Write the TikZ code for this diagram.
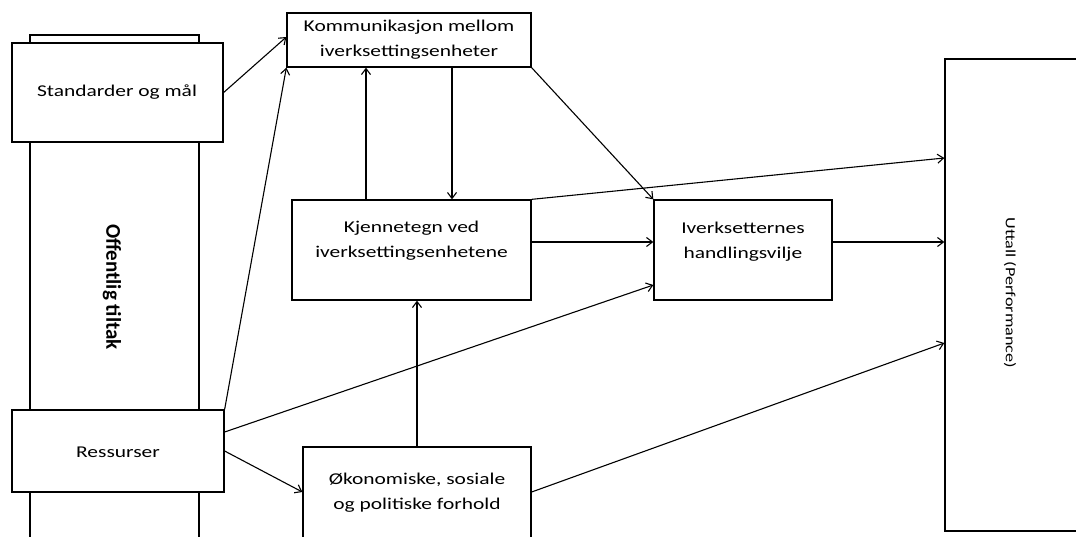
\documentclass[tikz,border=0pt]{standalone}
\usepackage{fontspec}
\setmainfont{Carlito}[FakeStretch=1.3]
\newfontfamily\plainfont{Carlito}
\usetikzlibrary{arrows.meta}
\begin{document}
\begin{tikzpicture}[x=1pt,y=-1pt,
  box/.style={draw, line width=1.3pt, fill=white, inner sep=0pt},
  lbl/.style={align=center, inner sep=0pt, font=\fontsize{16.5}{25}\selectfont},
  arr/.style={line width=1.1pt, -{Straight Barb[length=6pt,width=9pt]}}]
\useasboundingbox (0,0) rectangle (1076,536);
\begin{scope}
\clip (0,0) rectangle (1076,536);
% boxes
\node[box, minimum width=169, minimum height=540] (col) at (114.5,305) {};
\node[box, minimum width=211, minimum height=99] (std) at (117.5,92.5) {};
\node[box, minimum width=212, minimum height=82] (res) at (118,451) {};
\node[box, minimum width=244, minimum height=54] (kom) at (409,40) {};
\node[box, minimum width=239, minimum height=100] (kje) at (411.5,250) {};
\node[box, minimum width=178, minimum height=100] (ive) at (743,250) {};
\node[box, minimum width=228, minimum height=133] (oko) at (417,513.5) {};
\node[box, minimum width=155, minimum height=472] (utt) at (1022.5,295) {};
% labels
\node[inner sep=0pt, rotate=-90, font=\plainfont\bfseries\fontsize{21}{24}\selectfont] (colt) at (112,287) {Offentlig tiltak};
\node[lbl] (stdt) at (117,92) {Standarder og mål};
\node[lbl] (rest) at (118,452) {Ressurser};
\node[lbl] (komt) at (409,40) {Kommunikasjon mellom\\iverksettingsenheter};
\node[lbl] (kjet) at (411.5,241) {Kjennetegn ved\\iverksettingsenhetene};
\node[lbl] (ivet) at (743,242) {Iverksetternes\\handlingsvilje};
\node[lbl] (okot) at (417,493) {Økonomiske, sosiale\\og politiske forhold};
\node[inner sep=0pt, rotate=-90, font=\fontsize{14}{16}\selectfont] (uttt) at (1010,293) {Uttall (Performance)};
% connectors
\draw[arr] (std.east) -- ([yshift=3]kom.west);
\draw[arr] (res.north east) -- (kom.south west);
\draw[arr] ([xshift=-45.5]kje.north) -- ([xshift=-45.5]kje.north |- kom.south);
\draw[arr] ([xshift=43]kom.south) -- ([xshift=43]kom.south |- kje.north);
\draw[arr] (kom.south east) -- (ive.north west);
\draw[arr] (kje.north east) -- ([yshift=137]utt.west);
\draw[arr] ([yshift=8]kje.east) -- ([yshift=8]kje.east -| ive.west);
\draw[arr] ([yshift=8]ive.east) -- ([yshift=8]ive.east -| utt.west);
\draw[arr] ([yshift=19]res.east) -- ([yshift=-35]ive.west);
\draw[arr] (res.east) -- ([yshift=21.5]oko.west);
\draw[arr] (oko.north) -- (oko.north |- kje.south);
\draw[arr] ([yshift=21.5]oko.east) -- ([yshift=-48]utt.west);
\end{scope}
\end{tikzpicture}
\end{document}
